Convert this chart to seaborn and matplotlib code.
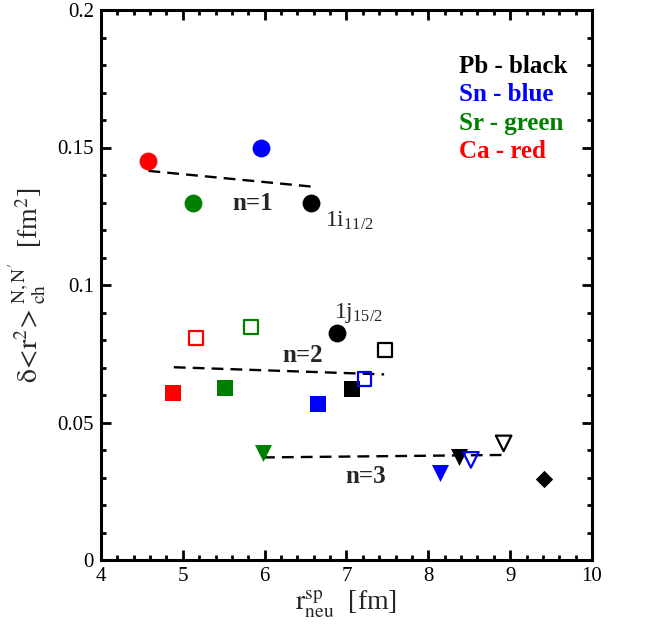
import matplotlib
matplotlib.use("Agg")
import matplotlib.pyplot as plt
from matplotlib.ticker import MultipleLocator
import seaborn as sns

# Colour per element
RED, BLUE, GREEN, BLACK = "#ff0000", "#0000ff", "#008000", "#000000"

# n=1 : filled circles (Ca, Sn, Sr, Pb)
n1_x = [4.58, 5.95, 5.12, 6.57]
n1_y = [0.145, 0.150, 0.130, 0.130]
n1_c = [RED, BLUE, GREEN, BLACK]

# extra Pb circle (1j15/2)
j_x = [6.89]
j_y = [0.0824]

# n=2 : filled squares
sqf_x = [4.875, 5.51, 6.65, 7.07]
sqf_y = [0.0606, 0.0624, 0.0566, 0.0623]
sqf_c = [RED, GREEN, BLUE, BLACK]

# n=2 : open squares
sqo_x = [5.165, 5.83, 7.22, 7.47]
sqo_y = [0.0806, 0.0848, 0.0659, 0.0764]
sqo_c = [RED, GREEN, BLUE, BLACK]

# n=3 : filled down-triangles
trf_x = [5.98, 8.14, 8.38]
trf_y = [0.0388, 0.0318, 0.0376]
trf_c = [GREEN, BLUE, BLACK]

# n=3 : open down-triangles
tro_x = [8.52, 8.92]
tro_y = [0.0364, 0.0424]
tro_c = [BLUE, BLACK]

# Pb diamond
dia_x = [9.41]
dia_y = [0.0295]

# dashed trend lines (start, end)
fit1_x, fit1_y = [4.58, 6.57], [0.1415, 0.1358]
fit2_x, fit2_y = [4.89, 7.46], [0.0701, 0.0675]
fit3_x, fit3_y = [5.98, 8.92], [0.0373, 0.0382]

legend_items = ["Pb - black", "Sn - blue", "Sr - green", "Ca - red"]
legend_cols = [BLACK, BLUE, GREEN, RED]

sns.set_theme(style="ticks")
plt.rcParams["font.family"] = ["Liberation Serif", "DejaVu Serif"]
plt.rcParams["mathtext.fontset"] = "stix"

fig = plt.figure(figsize=(6.48, 6.33), dpi=100)
ax = fig.add_axes([101 / 648, 73 / 633, 491 / 648, 550 / 633])


def points(xs, ys, cols, marker, size, filled, lw=1.6):
    for x, y, c in zip(xs, ys, cols):
        sns.scatterplot(x=[x], y=[y], marker=marker, s=size, color=c,
                        linewidth=0 if filled else lw, ax=ax, legend=False,
                        zorder=3)
        coll = ax.collections[-1]
        if filled:
            coll.set_facecolor(c)
            coll.set_edgecolor(c)
        else:
            coll.set_facecolor("none")
            coll.set_edgecolor(c)
            coll.set_linewidth(lw)


for fx, fy in [(fit1_x, fit1_y), (fit2_x, fit2_y), (fit3_x, fit3_y)]:
    sns.lineplot(x=fx, y=fy, color="black", linewidth=1.7, dashes=False,
                 ax=ax, legend=False, estimator=None, sort=False)
    ax.lines[-1].set_linestyle((0, (5, 3)))

points(n1_x, n1_y, n1_c, "o", 165, True)
points(j_x, j_y, [BLACK], "o", 165, True)
points(sqf_x, sqf_y, sqf_c, "s", 118, True)
points(sqo_x, sqo_y, sqo_c, "s", 100, False)
points(trf_x, trf_y, trf_c, "v", 150, True)
points(tro_x, tro_y, tro_c, "v", 125, False)
points(dia_x, dia_y, [BLACK], "D", 78, True)

ax.set_xlim(4, 10)
ax.set_ylim(0, 0.2)
ax.xaxis.set_major_locator(MultipleLocator(1))
ax.xaxis.set_minor_locator(MultipleLocator(0.2))
ax.yaxis.set_major_locator(MultipleLocator(0.05))
ax.yaxis.set_minor_locator(MultipleLocator(0.01))
ax.set_yticks([0, 0.05, 0.1, 0.15, 0.2])
ax.set_yticklabels(["0", "0.05", "0.1", "0.15", "0.2"])
ax.tick_params(which="both", direction="in", top=True, right=True,
               labelsize=15, colors="black", pad=5)
ax.tick_params(which="major", length=7, width=2)
ax.tick_params(which="minor", length=3.8, width=2)
for sp in ax.spines.values():
    sp.set_linewidth(2.2)
    sp.set_color("black")

ax.set_xlabel(r"$\mathrm{r_{neu}^{sp}}$  [fm]", fontsize=20, labelpad=2)
ax.set_ylabel(r"$\mathrm{\delta\!<\!r^{2}\!>_{ch}^{N,N'}}$  [fm$^{\mathrm{2}}$]",
              fontsize=20, labelpad=6)

for i, (t, c) in enumerate(zip(legend_items, legend_cols)):
    ax.text(8.38, 0.1794 - i * 0.0103, t, color=c, fontsize=18,
            fontweight="bold", va="center", ha="left")

ax.text(5.85, 0.1297, "n=1", fontsize=18, fontweight="bold",
        ha="center", va="center")
ax.text(6.46, 0.0742, "n=2", fontsize=18, fontweight="bold",
        ha="center", va="center")
ax.text(7.24, 0.0303, "n=3", fontsize=18, fontweight="bold",
        ha="center", va="center")
ax.text(6.74, 0.1235, r"$\mathregular{1i_{11/2}}$", fontsize=17,
        ha="left", va="center")
ax.text(6.85, 0.0898, r"$\mathregular{1j_{15/2}}$", fontsize=17,
        ha="left", va="center")

fig.savefig("out.png", dpi=100)
